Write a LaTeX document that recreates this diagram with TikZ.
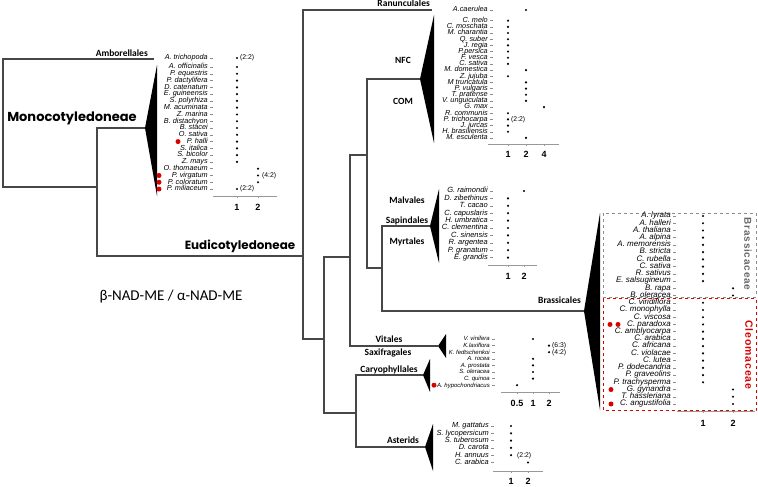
\documentclass[tikz,border=0pt]{standalone}
\usepackage{fontspec}
\setmainfont{Liberation Sans}
\newfontfamily\labfont{Carlito}
\newfontfamily\bigfont{Poppins}
\usetikzlibrary{calc,shapes.geometric}

\tikzset{
  branch/.style={draw=black!72, line width=1.1pt},
  clade/.style={fill=black},
  sp/.style={anchor=east, inner sep=0pt, font=\itshape\fontsize{#1}{7}\selectfont, text height=5pt, text depth=1.4pt},
  sp/.default=7.3,
  spdot/.style={circle, fill=black, inner sep=0pt, minimum size=2.4pt},
  tickmark/.style={draw=black!45, line width=0.5pt},
  axisline/.style={draw=black!40, line width=0.7pt},
  axislab/.style={inner sep=0pt, font=\bfseries\fontsize{9}{9}\selectfont},
  ratio/.style={anchor=west, inner sep=0pt, font=\fontsize{6.8}{7}\selectfont, text height=5pt, text depth=1.4pt},
  grouplab/.style={inner sep=0pt, font=\labfont\bfseries\fontsize{9.5}{10}\selectfont, text height=6.5pt, text depth=2pt},
  biglab/.style={inner sep=0pt, font=\bigfont\bfseries\fontsize{#1}{14}\selectfont},
  redmark/.style={circle, fill=red!85!black, inner sep=0pt, minimum size=5pt},
}

\begin{document}
\begin{tikzpicture}[x=1pt,y=-1pt]
			%%%%% START %%%%%
			\useasboundingbox (0,0) rectangle (758,487);

			% tree
			\coordinate (amb) at (154,59);
			\coordinate (n-root) at (3,120);
			\coordinate (n-ang) at (97,187);
			\coordinate (mono) at (145,128);
			\coordinate (n-eud) at (303,256);
			\coordinate (ran) at (432,10);
			\coordinate (n-core) at (324,339);
			\coordinate (n-ros) at (350,257);
			\coordinate (n-ast) at (356,413);
			\coordinate (n-fab) at (367,155);
			\coordinate (vit) at (438,346);
			\coordinate (nfc) at (420,79);
			\coordinate (n-mal) at (382,268);
			\coordinate (malv) at (430,226);
			\coordinate (bras) at (584,311);
			\coordinate (car) at (423,375);
			\coordinate (aster) at (425,447);

			\draw[branch] (amb) -| (n-root) |- (n-ang);
			\draw[branch] (mono) -| (n-ang) |- (n-eud);
			\draw[branch] (ran) -| (n-eud) |- (n-core);
			\draw[branch] (n-ros) -| (n-core) |- (n-ast);
			\draw[branch] (n-fab) -| (n-ros) |- (vit);
			\draw[branch] (nfc) -| (n-fab) |- (n-mal);
			\draw[branch] (malv) -| (n-mal) |- (bras);
			\draw[branch] (car) -| (n-ast) |- (aster);

			\fill[clade] (mono) -- (157,65) -- (157,196) -- cycle;
			\fill[clade] (nfc) -- (434,15) -- (434,143) -- cycle;
			\fill[clade] (malv) -- (439,189) -- (439,263) -- cycle;
			\fill[clade] (vit) -- (446,334) -- (446,358) -- cycle;
			\fill[clade] (car) -- (430,359) -- (430,392) -- cycle;
			\fill[clade] (aster) -- (433,424) -- (433,471) -- cycle;
			\fill[clade] (bras) -- (600,213) -- (600,410) -- cycle;

			% clade names
			\node[grouplab, anchor=east] (lab-amb) at (148,54) {Amborellales};
			\node[biglab=13] (lab-mono) at (72,118) {Monocotyledoneae};
			\node[biglab=11.9] (lab-eud) at (240,246) {Eudicotyledoneae};
			\node[grouplab, anchor=east] (lab-ran) at (430,4) {Ranunculales};
			\node[grouplab] (lab-nfc) at (403,61) {NFC};
			\node[grouplab] (lab-com) at (403,102) {COM};
			\node[grouplab] (lab-malv) at (407,201) {Malvales};
			\node[grouplab] (lab-sap) at (407,221) {Sapindales};
			\node[grouplab] (lab-myr) at (407,242) {Myrtales};
			\node[grouplab, anchor=east] (lab-bras) at (581,301) {Brassicales};
			\node[grouplab] (lab-vit) at (389,340) {Vitales};
			\node[grouplab] (lab-sax) at (388,353) {Saxifragales};
			\node[grouplab] (lab-car) at (389,370) {Caryophyllales};
			\node[grouplab] (lab-ast) at (403,441) {Asterids};
			\node[inner sep=0pt, font=\labfont\fontsize{15}{16}\selectfont] (lab-ratio) at (171,297) {β-NAD-ME / α-NAD-ME};

			% Amborellales + monocots
			\node[sp] (sp-atri) at (208,58) {A. trichopoda};
			\draw[tickmark] ([xshift=2]sp-atri.east) -- ++(3,0);
			\node[spdot] (d-atri) at (237,58) {};
			\node[ratio] (r-atri) at (240,58) {(2:2)};
			\foreach \nm/\cx [count=\i] in {A. officinalis/237, P. equestris/237, P. dactylifera/237,
				D. catenatum/237, E. guineensis/237, S. polyrhiza/237, M. acuminata/237, Z. marina/237,
				B. distachyon/237, B. stacei/237, O. sativa/237, P. halli/237, S. italica/237,
				S. bicolor/237, Z. mays/237, O. thomaeum/258, P. virgatum/258, P. coloratum/258,
				P. miliaceum/237} {
				\node[sp] (mono-\i) at (208,{67+(\i-1)*6.78}) {\nm};
				\draw[tickmark] ([xshift=2]mono-\i.east) -- ++(3,0);
				\node[spdot] (monod-\i) at (\cx,{67+(\i-1)*6.78}) {};
			}
			\node[ratio] (r-pvir) at (262,{67+16*6.78}) {(4:2)};
			\node[ratio] (r-pmil) at (240,{67+18*6.78}) {(2:2)};
			\node[redmark] (red-phal) at (178,{67+11*6.78}) {};
			\node[redmark] (red-pvir) at (159,{67+16*6.78}) {};
			\node[redmark] (red-pcol) at (159,{67+17*6.78}) {};
			\node[redmark] (red-pmil) at (159,{67+18*6.78}) {};
			\draw[axisline] (213,196) -- (277,196);
			\foreach \tx/\tl in {237/1, 258/2} {
				\draw[axisline] (\tx,196) -- (\tx,198);
				\node[axislab] (monoax-\tl) at (\tx,207) {\tl};
			}

			% Ranunculales + NFC / COM
			\node[sp] (sp-acae) at (488,10) {A.caerulea};
			\draw[tickmark] ([xshift=2]sp-acae.east) -- ++(3,0);
			\node[spdot] (d-acae) at (526,10) {};
			\foreach \nm/\cx [count=\i] in {C. melo/508, C. moschata/508, M. charantia/508, Q. suber/508,
				J. regia/508, P.persica/508, F. vesca/508, C. sativa/508, M. domestica/526,
				Z. jujuba/508, M truncatula/526, P. vulgaris/526, T. pratense/526,
				V. unguiculata/526, G. max/544, R. communis/508, P. trichocarpa/508,
				J. jurcas/508, H. brasiliensis/508, M. esculenta/526} {
				\node[sp] (nfc-\i) at (488,{20.7+(\i-1)*6.17}) {\nm};
				\draw[tickmark] ([xshift=2]nfc-\i.east) -- ++(3,0);
				\node[spdot] (nfcd-\i) at (\cx,{20.7+(\i-1)*6.17}) {};
			}
			\node[ratio] (r-ptri) at (511,{20.7+16*6.17}) {(2:2)};
			\draw[axisline] (488,144) -- (559,144);
			\foreach \tx/\tl in {508/1, 526/2, 544/4} {
				\draw[axisline] (\tx,144) -- (\tx,146);
				\node[axislab] (nfcax-\tl) at (\tx,154) {\tl};
			}

			% Malvales / Sapindales / Myrtales
			\foreach \nm/\cx [count=\i] in {G. raimondii/524, D. zibethinus/508, T. cacao/508,
				C. capuslaris/508, H. umbratica/508, C. clementina/508, C. sinensis/508,
				R. argentea/508, P. granatum/508, E. grandis/508} {
				\node[sp=7.5] (malv-\i) at (488,{191+(\i-1)*7.4}) {\nm};
				\draw[tickmark] ([xshift=2]malv-\i.east) -- ++(3,0);
				\node[spdot] (malvd-\i) at (\cx,{191+(\i-1)*7.4}) {};
			}
			\draw[axisline] (488,265) -- (537,265);
			\foreach \tx/\tl in {508/1, 524/2} {
				\draw[axisline] (\tx,265) -- (\tx,267);
				\node[axislab] (malvax-\tl) at (\tx,276) {\tl};
			}

			% Vitales / Saxifragales / Caryophyllales
			\foreach \nm/\cx [count=\i] in {V. vinifera/533, K.laxiflora/549, K. fedtschenkoi/549,
				A. rocea/533, A. prostata/533, S. oleracea/533, C. quinoa/533,
				A. hypochondriacus/517} {
				\node[sp=6] (vit-\i) at (490,{339+(\i-1)*6.6}) {\nm};
				\draw[tickmark] ([xshift=2]vit-\i.east) -- ++(3,0);
				\node[spdot] (vitd-\i) at (\cx,{339+(\i-1)*6.6}) {};
			}
			\node[ratio] (r-klax) at (552,{339+1*6.6}) {(6:3)};
			\node[ratio] (r-kfed) at (552,{339+2*6.6}) {(4:2)};
			\node[redmark] (red-ahyp) at (434,{339+7*6.6}) {};
			\draw[axisline] (501,392) -- (560,392);
			\foreach \tx/\tl in {517/0.5, 533/1, 549/2} {
				\draw[axisline] (\tx,392) -- (\tx,394);
				\node[axislab] (vitax-\tl) at (\tx,403) {\tl};
			}

			% Asterids
			\foreach \nm/\cx [count=\i] in {M. gattatus/511, S. lycopersicum/511, S. tuberosum/511,
				D. carota/511, H. annuus/511, C. arabica/528} {
				\node[sp=7.4] (ast-\i) at (489,{426+(\i-1)*7.3}) {\nm};
				\draw[tickmark] ([xshift=2]ast-\i.east) -- ++(3,0);
				\node[spdot] (astd-\i) at (\cx,{426+(\i-1)*7.3}) {};
			}
			\node[ratio] (r-hann) at (517,{426+4*7.3}) {(2:2)};
			\draw[axisline] (493,471) -- (543,471);
			\foreach \tx/\tl in {511/1, 528/2} {
				\draw[axisline] (\tx,471) -- (\tx,473);
				\node[axislab] (astax-\tl) at (\tx,481) {\tl};
			}

			% Brassicales
			\draw[black!45, dashed, line width=0.6pt] (603,213) rectangle (756,297);
			\draw[red!85!black, dashed, line width=0.6pt] (603,298.5) rectangle (756,410);
			\foreach \nm/\cx [count=\i] in {A. lyrata/703, A. halleri/703, A. thaliana/703,
				A. alpina/703, A. memorensis/703, B. stricta/703, C. rubella/703, C. sativa/703,
				R. sativus/703, E. salsugineum/703, B. rapa/733, B. oleracea/733,
				C. viridiflora/703, C. monophylla/703, C. viscosa/703, C. paradoxa/703,
				C. amblyocarpa/703, C. arabica/703, C. africana/703, C. violacae/703,
				C. lutea/703, P. dodecandria/703, P. graveolins/703, P. trachysperma/703,
				G. gynandra/733, T. hassleriana/733, C. angustifolia/733} {
				\node[sp=8] (bra-\i) at (671,{216+(\i-1)*7.23}) {\nm};
				\draw[tickmark] ([xshift=2]bra-\i.east) -- ++(3,0);
				\node[spdot] (brad-\i) at (\cx,{216+(\i-1)*7.23}) {};
			}
			\node[redmark] (red-cpar1) at (610,{216+15*7.23}) {};
			\node[redmark] (red-cpar2) at (618,{216+15*7.23}) {};
			\node[redmark] (red-ggyn) at (611,{216+24*7.23}) {};
			\node[redmark] (red-cang) at (611,{216+26*7.23}) {};
			\node[rotate=-90, inner sep=0pt, text=black!60, font=\bfseries\fontsize{10}{10}\selectfont\addfontfeatures{LetterSpace=8}] (lab-brc) at (748,254) {Brassicaceae};
			\node[rotate=-90, inner sep=0pt, text=red!85!black, font=\bfseries\fontsize{10.5}{10}\selectfont\addfontfeatures{LetterSpace=8}] (lab-cle) at (749,355) {Cleomaceae};
			\draw[axisline] (677,411) -- (755,411);
			\foreach \tx/\tl in {703/1, 733/2} {
				\draw[axisline] (\tx,411) -- (\tx,413);
				\node[axislab] (braax-\tl) at (\tx,423) {\tl};
			}
			%%%%% END %%%%%
\end{tikzpicture}
\end{document}
